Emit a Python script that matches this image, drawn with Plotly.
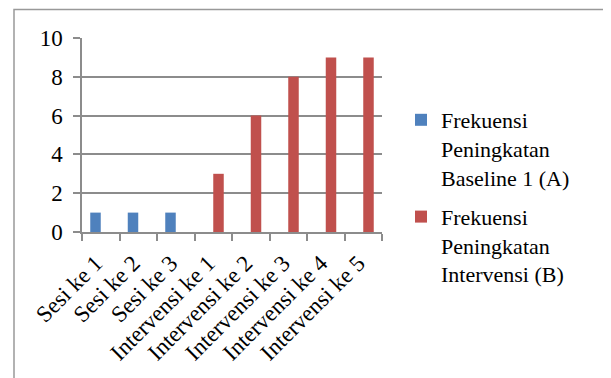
import plotly.graph_objects as go

categories = ["Sesi ke 1", "Sesi ke 2", "Sesi ke 3", "Intervensi ke 1",
              "Intervensi ke 2", "Intervensi ke 3", "Intervensi ke 4", "Intervensi ke 5"]
baseline_values = [1, 1, 1, None, None, None, None, None]
intervensi_values = [None, None, None, 3, 6, 8, 9, 9]
series_names = ["Frekuensi<br>Peningkatan<br>Baseline 1 (A)",
                "Frekuensi<br>Peningkatan<br>Intervensi (B)"]
y_ticks = [0, 2, 4, 6, 8, 10]

FONT = "Liberation Serif, Times New Roman, serif"
GRID = "#8c8c8c"

fig = go.Figure()
fig.add_trace(go.Bar(x=categories, y=baseline_values, name=series_names[0], legendgroup="a",
                     marker=dict(color="#4F81BD", line=dict(width=0))))
fig.add_trace(go.Bar(x=categories, y=intervensi_values, name=series_names[1], legendgroup="b",
                     marker=dict(color="#C0504D", line=dict(width=0))))

# page body has an 8px margin: figure coords = screen coords - 8
OFF = 8
W, H = 611 - OFF, 378 - OFF
L, T = 82 - OFF, 38 - OFF
R = W - (382 - OFF)
B = H - (232 - OFF)
pw, ph = W - L - R, H - T - B

def px(x):
    return (x - OFF - L) / pw

def py(y):
    return (H - B - (y - OFF)) / ph

fig.update_layout(
    width=W, height=H,
    margin=dict(l=L, r=R, t=T, b=B, autoexpand=False),
    paper_bgcolor="white", plot_bgcolor="white",
    barmode="group", bargap=0.44, bargroupgap=0,
    font=dict(family=FONT, size=23, color="black"),
    showlegend=True,
    legend=dict(x=px(401), y=py(99), xanchor="left", yanchor="top", valign="top",
                font=dict(family=FONT, size=22, color="black"), maxheight=400,
                tracegroupgap=8, itemwidth=30, bgcolor="rgba(0,0,0,0)"),
    xaxis=dict(type="category", tickson="boundaries", ticks="outside", ticklen=7,
               tickcolor=GRID, tickwidth=1.5, showline=True, linecolor=GRID, linewidth=1.5,
               showgrid=False, tickangle=-45, automargin=False,
               ticklabelstandoff=7, ticklabelshift=-5,
               tickfont=dict(family=FONT, size=23)),
    yaxis=dict(range=[0, 10], tickvals=y_ticks, ticks="outside", ticklen=7,
               tickcolor=GRID, tickwidth=1.5, showline=True, linecolor=GRID, linewidth=1.5,
               showgrid=True, gridcolor=GRID, gridwidth=1.5, zeroline=False,
               automargin=False, ticklabelstandoff=6,
               tickfont=dict(family=FONT, size=23)),
    shapes=[dict(type="rect", xref="paper", yref="paper",
                 x0=px(14), x1=px(605), y0=py(400), y1=py(9.5),
                 line=dict(color="#999999", width=1.5), layer="below")],
)

fig.write_html("out.html")
